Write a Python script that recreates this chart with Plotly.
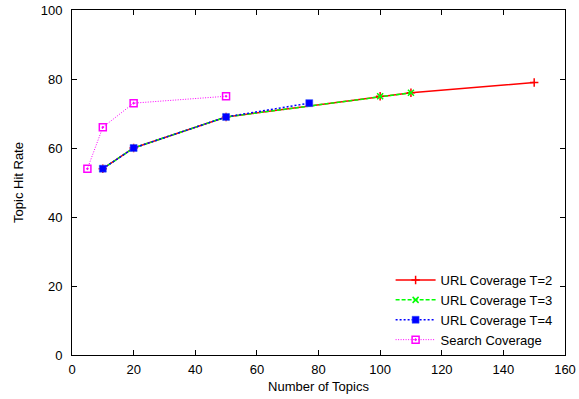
import plotly.graph_objects as go

# Data
t2_x = [10, 20, 50, 100, 110, 150]
t2_y = [54, 60, 69, 75, 76, 79]
t3_x = [10, 20, 50, 100, 110]
t3_y = [54, 60, 69, 75, 76]
t4_x = [10, 20, 50, 77]
t4_y = [54, 60, 69, 73]
search_x = [5, 10, 20, 50]
search_y = [54, 66, 73, 75]

names = ["URL Coverage T=2", "URL Coverage T=3", "URL Coverage T=4", "Search Coverage"]
x_ticks = [0, 20, 40, 60, 80, 100, 120, 140, 160]
y_ticks = [0, 20, 40, 60, 80, 100]

fig = go.Figure()
fig.add_trace(go.Scatter(x=t2_x, y=t2_y, name=names[0], mode="lines+markers",
                         line=dict(color="#ff0000", width=1.5),
                         marker=dict(symbol="cross-thin-open", size=6,
                                     line=dict(color="#ff0000", width=1.5))))
fig.add_trace(go.Scatter(x=t3_x, y=t3_y, name=names[1], mode="lines+markers",
                         line=dict(color="#00ff00", width=1.5, dash="4px,2px"),
                         marker=dict(symbol="x-thin-open", size=6,
                                     line=dict(color="#00ff00", width=1.5))))
fig.add_trace(go.Scatter(x=t4_x, y=t4_y, name=names[2], mode="lines+markers",
                         line=dict(color="#0000ff", width=1.5, dash="2px,2px"),
                         marker=dict(symbol="square", size=7, color="#0000ff",
                                     line=dict(color="#3355ff", width=0.5))))
fig.add_trace(go.Scatter(x=search_x, y=search_y, name=names[3], mode="lines+markers",
                         line=dict(color="#ff00ff", width=1, dash="1px,1.5px"),
                         marker=dict(symbol="square-open-dot", size=7,
                                     color="#ff00ff",
                                     line=dict(color="#ff00ff", width=1.5))))

axis_common = dict(showline=True, linecolor="black", linewidth=1, mirror="ticks",
                   ticks="inside", ticklen=5, tickcolor="black", showgrid=False,
                   zeroline=False, automargin=False,
                   tickfont=dict(size=13, color="black"))

fig.update_layout(
    width=579, height=399,
    margin=dict(l=72, r=14, t=10, b=44),
    paper_bgcolor="white", plot_bgcolor="white",
    font=dict(family="Liberation Sans, Arial, sans-serif", size=13, color="black"),
    xaxis=dict(range=[0, 160], tickvals=x_ticks, ticklabelstandoff=2,
               title=dict(text="Number of Topics", font=dict(size=13), standoff=6),
               **axis_common),
    yaxis=dict(range=[0, 100], tickvals=y_ticks, ticklabelstandoff=6,
               title=dict(text="Topic Hit Rate", font=dict(size=13), standoff=14),
               **axis_common),
    legend=dict(x=0.985, y=0.0, xanchor="right", yanchor="bottom",
                bgcolor="rgba(0,0,0,0)", font=dict(size=13),
                tracegroupgap=0, itemwidth=40),
    showlegend=True,
)

fig.write_html("out.html", config={"displayModeBar": False},
               post_script="document.body.style.margin='0';document.body.style.overflow='hidden';")
